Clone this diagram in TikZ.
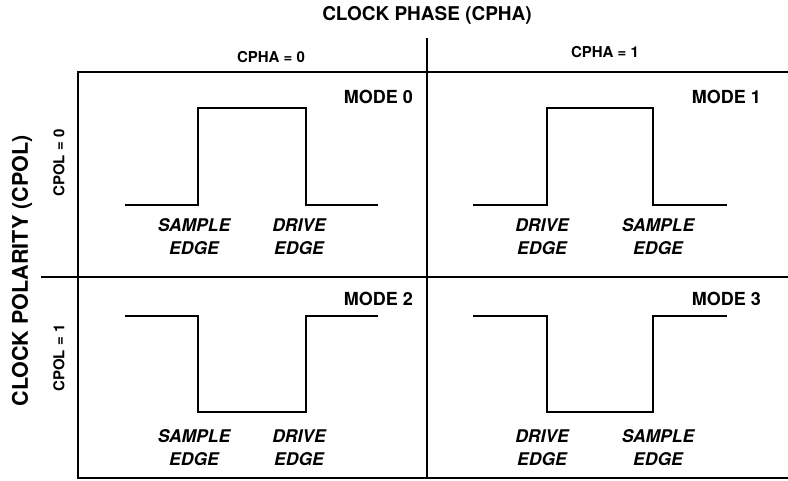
\documentclass[tikz,border=0pt]{standalone}
\usepackage{fontspec}
\setmainfont{TeX Gyre Heros}
\begin{document}
\begin{tikzpicture}[x=1pt,y=-1pt,
  frame/.style={line width=2.9pt},
  wave/.style={line width=2.7pt},
  title/.style={font=\fontsize{19}{19}\selectfont\bfseries, inner sep=0pt},
  sidetitle/.style={font=\fontsize{21.5}{21.5}\selectfont\bfseries, inner sep=0pt, rotate=90},
  sublabel/.style={font=\fontsize{15}{15}\selectfont\bfseries, inner sep=0pt},
  modelabel/.style={font=\fontsize{18}{18}\selectfont\bfseries, inner sep=0pt},
  edgelabel/.style={font=\fontsize{17.5}{23.5}\selectfont\bfseries\itshape, inner sep=0pt, align=center, anchor=north}]
\useasboundingbox (0,0) rectangle (788,480);
% frame
\coordinate (ftr) at (788,72);
\coordinate (ftl) at (78,72);
\coordinate (fbl) at (78,478);
\coordinate (fbr) at (788,478);
\draw[frame] (ftr) -- (ftl) -- (fbl) -- (fbr);
\coordinate (vtop) at (427,38);
\coordinate (vbot) at (427,478);
\draw[frame] (vtop) -- (vbot);
\coordinate (hl) at (41,277);
\coordinate (hr) at (788,277);
\draw[frame] (hl) -- (hr);
% titles
\node[title] (phase) at (427,15) {CLOCK PHASE (CPHA)};
\node[sidetitle] (pol) at (22,271) {CLOCK POLARITY (CPOL)};
\node[sublabel] (cpha0) at (271,57) {CPHA = 0};
\node[sublabel] (cpha1) at (605,52) {CPHA = 1};
\node[sublabel, rotate=90] (cpol0) at (59,163) {CPOL = 0};
\node[sublabel, rotate=90] (cpol1) at (59,358) {CPOL = 1};
% mode labels
\node[modelabel, anchor=east] (m0) at (413,97) {MODE 0};
\node[modelabel, anchor=east] (m1) at (761,97) {MODE 1};
\node[modelabel, anchor=east] (m2) at (413,299) {MODE 2};
\node[modelabel, anchor=east] (m3) at (761,299) {MODE 3};
% waveforms
\draw[wave] (125,205) -- (198,205) -- (198,108) -- (306,108) -- (306,205) -- (378,205);
\draw[wave] (473,205) -- (547,205) -- (547,108) -- (653,108) -- (653,205) -- (727,205);
\draw[wave] (125,316) -- (198,316) -- (198,412) -- (306,412) -- (306,316) -- (378,316);
\draw[wave] (473,316) -- (547,316) -- (547,412) -- (653,412) -- (653,316) -- (727,316);
% edge labels
\node[edgelabel] (e0a) at (194,218) {\vphantom{SD}SAMPLE\\EDGE};
\node[edgelabel] (e0b) at (299,218) {\vphantom{SD}DRIVE\\EDGE};
\node[edgelabel] (e1a) at (542,218) {\vphantom{SD}DRIVE\\EDGE};
\node[edgelabel] (e1b) at (658,218) {\vphantom{SD}SAMPLE\\EDGE};
\node[edgelabel] (e2a) at (194,429) {\vphantom{SD}SAMPLE\\EDGE};
\node[edgelabel] (e2b) at (299,429) {\vphantom{SD}DRIVE\\EDGE};
\node[edgelabel] (e3a) at (542,429) {\vphantom{SD}DRIVE\\EDGE};
\node[edgelabel] (e3b) at (658,429) {\vphantom{SD}SAMPLE\\EDGE};
\end{tikzpicture}
\end{document}
